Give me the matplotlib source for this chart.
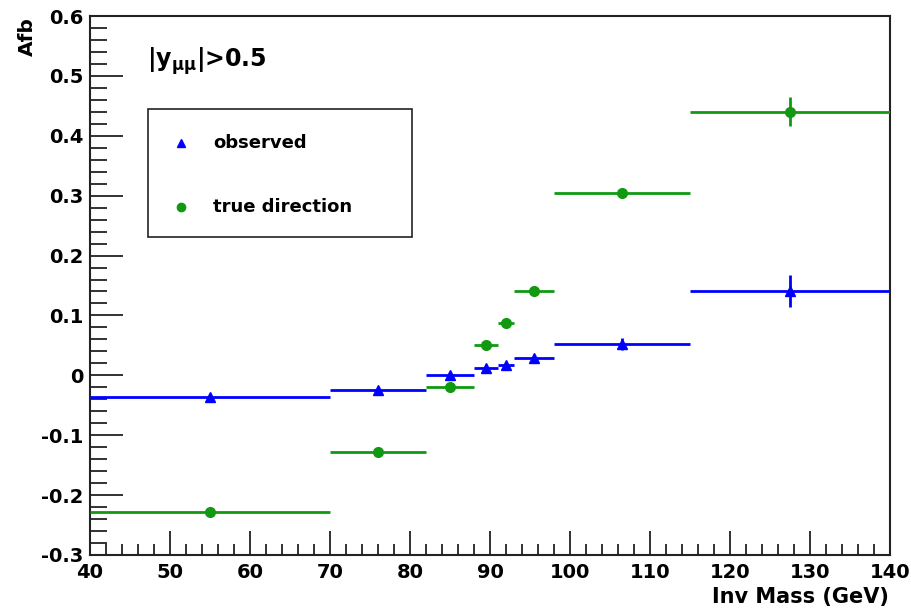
import numpy as np
import matplotlib
matplotlib.use("Agg")
import matplotlib.pyplot as plt
from matplotlib.patches import Rectangle
from matplotlib.ticker import MultipleLocator, FuncFormatter

plt.rcParams['font.family'] = ['DejaVu Sans']
plt.rcParams['font.weight'] = 'bold'
plt.rcParams['mathtext.fontset'] = 'custom'
plt.rcParams['mathtext.rm'] = 'DejaVu Sans:bold'
plt.rcParams['mathtext.it'] = 'DejaVu Sans:bold'
plt.rcParams['mathtext.bf'] = 'DejaVu Sans:bold'
plt.rcParams['mathtext.sf'] = 'DejaVu Sans'

# Data
bin_edges = [40, 70, 82, 88, 91, 93, 98, 115, 140]
observed = [-0.037, -0.025, 0.000, 0.013, 0.017, 0.029, 0.052, 0.141]
observed_err = [0.004, 0.004, 0.004, 0.004, 0.004, 0.005, 0.010, 0.027]
true_dir = [-0.228, -0.128, -0.020, 0.051, 0.087, 0.141, 0.305, 0.440]
true_err = [0.004, 0.004, 0.004, 0.004, 0.004, 0.005, 0.006, 0.024]
legend_labels = ["observed", "true direction"]

edges = np.array(bin_edges, dtype=float)
centers = 0.5 * (edges[:-1] + edges[1:])
halfw = 0.5 * (edges[1:] - edges[:-1])

blue = '#0000ff'
green = '#119911'

fig = plt.figure(figsize=(9.12, 6.09), dpi=100)
ax = fig.add_axes([90/912, 1-555/609, 800/912, 539/609])

ax.errorbar(centers, true_dir, xerr=halfw, yerr=true_err, fmt='o', color=green,
            ms=7, elinewidth=2, capsize=0, zorder=3)
ax.errorbar(centers, observed, xerr=halfw, yerr=observed_err, fmt='^', color=blue,
            ms=7, elinewidth=2, capsize=0, zorder=4)

ax.set_xlim(40, 140)
ax.set_ylim(-0.3, 0.6)
ax.xaxis.set_major_locator(MultipleLocator(10))
ax.xaxis.set_minor_locator(MultipleLocator(2))
ax.yaxis.set_major_locator(MultipleLocator(0.1))
ax.yaxis.set_minor_locator(MultipleLocator(0.02))
ax.tick_params(which='both', direction='in', top=False, right=False, width=1.3, color='#222222')
ax.tick_params(which='major', axis='y', length=24, labelsize=14, pad=5)
ax.tick_params(which='minor', axis='y', length=12)
ax.tick_params(which='major', axis='x', length=17, labelsize=14, pad=6)
ax.tick_params(which='minor', axis='x', length=8)
for lab in ax.get_xticklabels() + ax.get_yticklabels():
    lab.set_fontweight('bold')
ax.yaxis.set_major_formatter(FuncFormatter(lambda v, p: '0' if abs(v) < 1e-9 else f'{v:.1f}'))
for s in ax.spines.values():
    s.set_linewidth(1.5)
    s.set_color('#222222')

# annotation
ax.text(0.071, 0.905, r'$|y_{\mathsf{μμ}}|$>0.5', transform=ax.transAxes, fontsize=17,
        ha='left', va='baseline')

# legend box
ax.add_patch(Rectangle((0.0725, 0.59), 0.33, 0.2375, transform=ax.transAxes,
                       fill=True, facecolor='white', edgecolor='#222222', lw=1.2, zorder=5))
ax.plot([0.114], [0.765], marker='^', color=blue, ms=5.5, transform=ax.transAxes, zorder=6)
ax.plot([0.114], [0.645], marker='o', color=green, ms=6, transform=ax.transAxes, zorder=6)
ax.text(0.154, 0.765, legend_labels[0], transform=ax.transAxes, fontsize=13,
        ha='left', va='center', zorder=6)
ax.text(0.154, 0.645, legend_labels[1], transform=ax.transAxes, fontsize=13,
        ha='left', va='center', zorder=6)

fig.text(27/912, 1-17/609, 'Afb', rotation=90, ha='center', va='top', fontsize=14.5, fontweight='bold')
fig.text(889/912, 1-597/609, 'Inv Mass (GeV)', ha='right', va='center', fontsize=15, fontweight='bold')

fig.savefig('out.png', dpi=100)
